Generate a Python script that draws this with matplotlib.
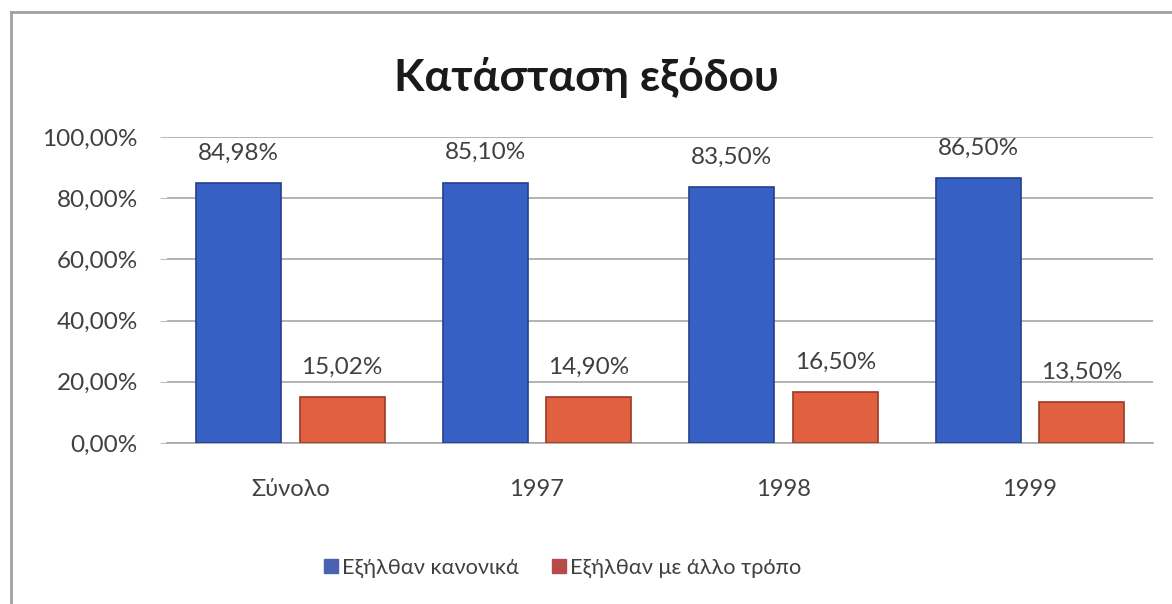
import numpy as np
import matplotlib.pyplot as plt
from matplotlib.lines import Line2D
from matplotlib.ticker import FuncFormatter

plt.rcParams['font.family'] = ['Lato', 'DejaVu Sans']

categories = ['Σύνολο', '1997', '1998', '1999']
kanonika = [84.98, 85.10, 83.50, 86.50]
allo_tropo = [15.02, 14.90, 16.50, 13.50]
series_names = ['Εξήλθαν κανονικά', 'Εξήλθαν με άλλο τρόπο']

def pct(v):
    return ('%.2f%%' % v).replace('.', ',')

fig = plt.figure(figsize=(11.72, 6.04), dpi=100)
fig.patch.set_facecolor('white')
axes = fig.add_axes([0.1425, 0.2666, 0.8415, 0.5066])

x = np.arange(len(categories))
w = 0.345
b1 = axes.bar(x - 0.21, kanonika, w, color='#3660c4', edgecolor='#23408a', linewidth=1.2,
              label=series_names[0], zorder=3)
b2 = axes.bar(x + 0.21, allo_tropo, w, color='#e0603f', edgecolor='#9a3a28', linewidth=1.2,
              label=series_names[1], zorder=3)

for bars, vals in ((b1, kanonika), (b2, allo_tropo)):
    for r, v in zip(bars, vals):
        axes.text(r.get_x() + r.get_width() / 2, v + 6.3, pct(v), ha='center', va='bottom',
                  fontsize=17.5, color='#404040')

axes.set_xlim(-0.5, 3.5)
axes.set_ylim(0, 100)
axes.set_yticks(np.arange(0, 101, 20))
axes.yaxis.set_major_formatter(FuncFormatter(lambda v, p: pct(v)))
axes.set_xticks(x)
axes.set_xticklabels(categories)
axes.tick_params(axis='y', length=5, color='#c0c0c0', labelsize=17.5, labelcolor='#404040', pad=16)
axes.tick_params(axis='x', length=0, labelsize=17, labelcolor='#404040', pad=26)
axes.grid(True, axis='y', color='#a6a6a6', linewidth=1.2, zorder=0)
for s in ['top', 'right', 'left']:
    axes.spines[s].set_visible(False)
axes.spines['bottom'].set_color('#a6a6a6')
axes.spines['bottom'].set_linewidth(1.2)

fig.text(0.5, 0.872, 'Κατάσταση εξόδου', ha='center', va='center', fontsize=32,
         fontweight='bold', color='#1a1a1a')

h1 = Line2D([], [], marker='s', linestyle='', markersize=10, color='#4a62b0')
h2 = Line2D([], [], marker='s', linestyle='', markersize=10, color='#b84a4a')
fig.legend([h1, h2], series_names, loc='center', bbox_to_anchor=(0.48, 0.06), ncol=2,
           frameon=False, fontsize=15.7, labelcolor='#404040', handletextpad=0.15,
           columnspacing=1.5, handlelength=0.7)

# ramka wokół wykresu
fig.add_artist(Line2D([11/1172, 1], [1 - 12/604, 1 - 12/604], color='#a0a0a0', linewidth=2))
fig.add_artist(Line2D([11/1172, 11/1172], [0, 1 - 12/604], color='#a0a0a0', linewidth=2))

fig.savefig('out.png', dpi=100, facecolor='white')
